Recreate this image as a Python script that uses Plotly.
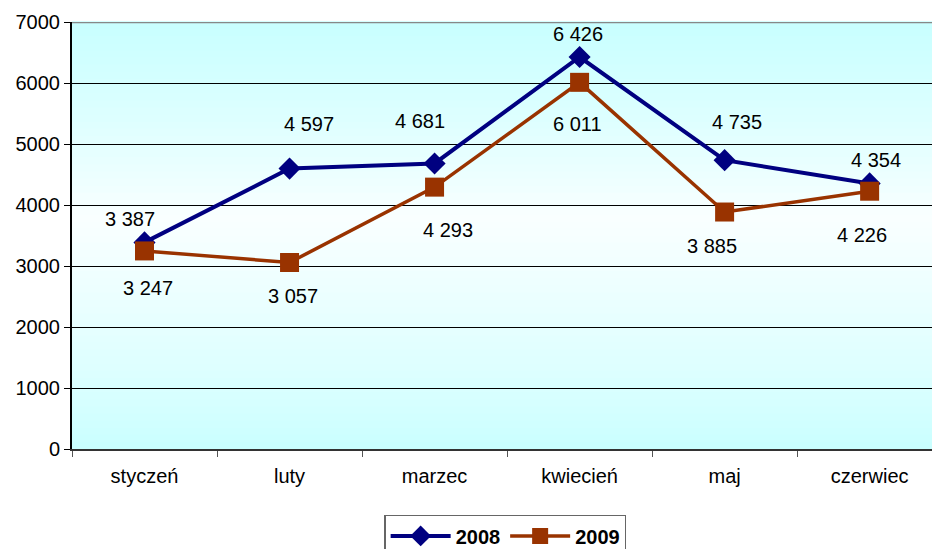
import plotly.graph_objects as go

months = ["styczeń", "luty", "marzec", "kwiecień", "maj", "czerwiec"]
v2008 = [3387, 4597, 4681, 6426, 4735, 4354]
v2009 = [3247, 3057, 4293, 6011, 3885, 4226]
y_ticks = [0, 1000, 2000, 3000, 4000, 5000, 6000, 7000]

# label offsets (styling only)
off2008 = [(-15, 23), (19, 45), (-15, 42), (-2, 23), (12, 38), (6, 23)]
off2009 = [(3, -37), (3, -33), (13, -43), (-2, -42), (-13, -34), (-8, -44)]

FONT = "Arial, Liberation Sans, sans-serif"

def fmt(v):
    return f"{v:,}".replace(",", " ")

fig = go.Figure()

# gradient background bands
def lerp(c1, c2, t):
    return tuple(int(round(a + (b - a) * t)) for a, b in zip(c1, c2))

cyan = (0xC8, 0xFF, 0xFF)
white = (0xFA, 0xFF, 0xFF)
n = 60
mid = 0.55
for i in range(n):
    y0 = i / n
    y1 = (i + 1) / n
    yc = (y0 + y1) / 2
    if yc < mid:
        t = yc / mid
        col = lerp(cyan, white, t ** 0.8)
    else:
        t = (yc - mid) / (1 - mid)
        col = lerp(white, cyan, t ** 0.8)
    fig.add_shape(type="rect", xref="x domain", yref="y domain",
                  x0=0, x1=1, y0=y0, y1=y1 + 0.002,
                  fillcolor="rgb(%d,%d,%d)" % col, line_width=0, layer="below")

fig.add_trace(go.Scatter(
    x=months, y=v2008, name="2008", mode="lines+markers",
    line=dict(color="#000080", width=4),
    marker=dict(symbol="diamond", size=17, color="#000080"),
))
fig.add_trace(go.Scatter(
    x=months, y=v2009, name="2009", mode="lines+markers",
    line=dict(color="#993300", width=3.5),
    marker=dict(symbol="square", size=19, color="#993300"),
))

for m, v, (dx, dy) in zip(months, v2008, off2008):
    fig.add_annotation(x=m, y=v, text=fmt(v), showarrow=False,
                       xshift=dx, yshift=dy,
                       font=dict(family=FONT, size=20, color="black"))
for m, v, (dx, dy) in zip(months, v2009, off2009):
    fig.add_annotation(x=m, y=v, text=fmt(v), showarrow=False,
                       xshift=dx, yshift=dy,
                       font=dict(family=FONT, size=20, color="black"))

# top border
fig.add_shape(type="line", xref="x domain", yref="y", x0=0, x1=1, y0=7000, y1=7000,
              line=dict(color="#888888", width=2.5), layer="above")

fig.update_layout(
    width=932, height=549,
    margin=dict(l=72, r=0, t=22, b=100),
    paper_bgcolor="white", plot_bgcolor="rgba(0,0,0,0)",
    font=dict(family=FONT, size=20, color="black"),
    showlegend=True,
    legend=dict(orientation="h", xref="container", yref="container",
                x=0.542, xanchor="center", y=0.062, yanchor="top",
                bordercolor="#666666", borderwidth=1.5, bgcolor="white",
                font=dict(family=FONT, size=20, color="black", weight="bold"),
                itemwidth=60, tracegroupgap=0),
)
fig.update_xaxes(
    type="category", range=[-0.5, 5.43],
    showgrid=False, showline=True, linecolor="#333333", linewidth=2,
    ticks="outside", tickson="boundaries", ticklen=6, tickcolor="#555555",
    tickfont=dict(size=20), ticklabelstandoff=8,
)
fig.update_yaxes(
    range=[0, 7000], tickvals=y_ticks, ticktext=[str(t) for t in y_ticks],
    showgrid=True, gridcolor="black", gridwidth=1,
    showline=True, linecolor="black", linewidth=2,
    ticks="outside", ticklen=6, tickcolor="black",
    tickfont=dict(size=20), zeroline=False,
)

fig.write_html(
    "out.html",
    config={"displayModeBar": False},
    post_script="document.body.style.margin='0';document.body.style.overflow='hidden';",
)
